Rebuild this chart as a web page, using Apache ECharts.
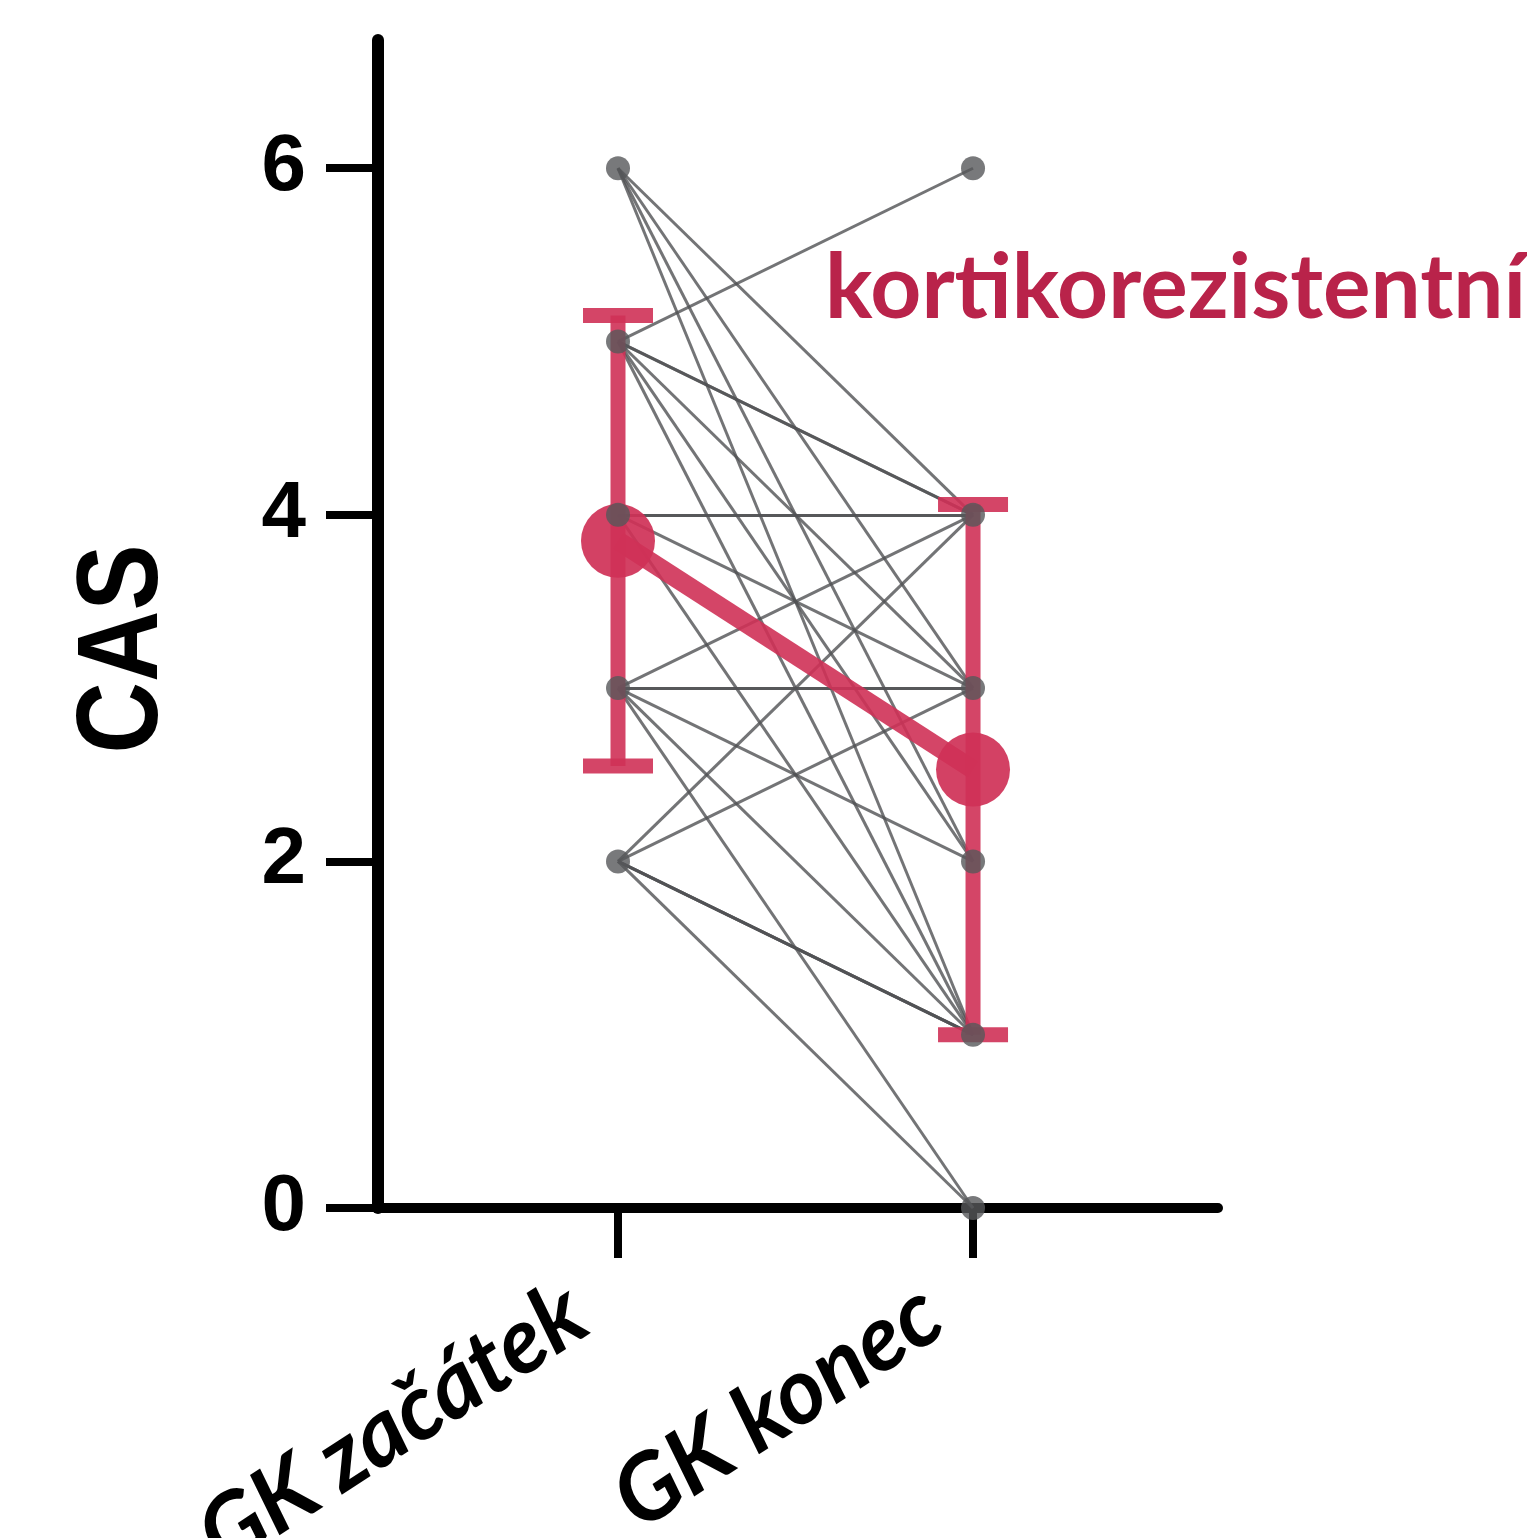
<!DOCTYPE html>
<html>
<head>
<meta charset="utf-8">
<script src="https://cdn.jsdelivr.net/npm/echarts@6/dist/echarts.min.js"></script>
<style>
  html, body { margin: 0; padding: 0; background: #ffffff; overflow: hidden; }
  #chart { width: 1527px; height: 1538px; }
</style>
</head>
<body>
<div id="chart"></div>
<script>
// Time points on the x axis
const categories = ['GK začátek', 'GK konec'];
// Paired CAS scores per patient (start of GC therapy -> end)
const startCAS = [6, 6, 6, 6, 5, 5, 5, 5, 5, 5, 4, 4, 4, 4, 3, 3, 3, 3, 3, 3, 2, 2, 2, 2, 2, 2];
const endCAS   = [4, 3, 2, 1, 6, 4, 4, 3, 2, 1, 4, 4, 3, 1, 3, 3, 4, 1, 0, 2, 4, 3, 1, 1, 1, 0];
// Group mean and standard deviation at each time point
const meanCAS = [3.85, 2.53];
const sdCAS = [1.30, 1.53];
// Y axis ticks
const yTicks = [0, 2, 4, 6];
const groupLabel = 'kortikorezistentní';

const RED = '#cf3157';
const GRAY = '#505154';

const chart = echarts.init(document.getElementById('chart'), null, { renderer: 'canvas' });

const pairLines = startCAS.map((s, i) => ({ coords: [[0, s], [1, endCAS[i]]] }));

const pointSet = {};
startCAS.forEach(v => { pointSet['0_' + v] = [0, v]; });
endCAS.forEach(v => { pointSet['1_' + v] = [1, v]; });
const points = Object.values(pointSet);

const errData = meanCAS.map((m, i) => [i, m - sdCAS[i], m + sdCAS[i]]);

chart.setOption({
  animation: false,
  backgroundColor: '#ffffff',
  title: {
    text: groupLabel,
    left: 820,
    top: 240,
    textStyle: { color: '#b9234a', fontFamily: 'Lato', fontWeight: 'bold', fontSize: 89 }
  },
  grid: { left: 378, width: 840, top: 40, height: 1168, containLabel: false, outerBoundsMode: 'none' },
  xAxis: {
    type: 'value',
    min: -0.676,
    max: 1.690,
    splitLine: { show: false },
    axisLine: { show: true, onZero: false, lineStyle: { color: '#000', width: 10 } },
    axisTick: { show: true, length: 50, customValues: [0, 1], lineStyle: { color: '#000', width: 8 } },
    axisLabel: {
      show: true,
      customValues: [0, 1],
      formatter: v => categories[Math.round(v)],
      rotate: 33,
      margin: 72,
      padding: [0, 48, 0, 0],
      color: '#000',
      fontFamily: 'Lato',
      fontStyle: 'italic',
      fontWeight: 'bold',
      fontSize: 92
    }
  },
  yAxis: {
    type: 'value',
    min: 0,
    max: 6.74,
    splitLine: { show: false },
    axisLine: { show: true, onZero: false, lineStyle: { color: '#000', width: 12 } },
    axisTick: { show: true, length: 52, customValues: yTicks, lineStyle: { color: '#000', width: 8 } },
    axisLabel: {
      show: true,
      customValues: yTicks,
      margin: 72,
      color: '#000',
      fontFamily: '"Liberation Sans", Arial, sans-serif',
      fontWeight: 'bold',
      fontSize: 80
    }
  },
  series: [
    {
      type: 'custom',
      name: 'sd',
      z: 3,
      data: errData,
      renderItem: function (params, api) {
        const x = api.value(0);
        const lo = api.coord([x, api.value(1)]);
        const hi = api.coord([x, api.value(2)]);
        const half = 35;
        const style = { stroke: RED, lineWidth: 15, opacity: 0.9 };
        return {
          type: 'group',
          children: [
            { type: 'line', shape: { x1: lo[0], y1: lo[1], x2: hi[0], y2: hi[1] }, style: style },
            { type: 'line', shape: { x1: hi[0] - half, y1: hi[1], x2: hi[0] + half, y2: hi[1] }, style: style },
            { type: 'line', shape: { x1: lo[0] - half, y1: lo[1], x2: lo[0] + half, y2: lo[1] }, style: style }
          ]
        };
      }
    },
    {
      type: 'lines',
      coordinateSystem: 'cartesian2d',
      z: 2,
      data: pairLines,
      lineStyle: { color: GRAY, width: 3, opacity: 0.8 }
    },
    {
      type: 'line',
      name: 'mean',
      z: 3,
      data: meanCAS.map((m, i) => [i, m]),
      symbol: 'circle',
      symbolSize: 74,
      lineStyle: { color: RED, width: 19, opacity: 0.9 },
      itemStyle: { color: RED, opacity: 0.92 }
    },
    {
      type: 'scatter',
      z: 4,
      data: points,
      symbol: 'circle',
      symbolSize: 24,
      itemStyle: { color: '#56575a' }
    }
  ],
  graphic: [
    {
      type: 'text',
      x: 125,
      y: 649,
      rotation: Math.PI / 2,
      scaleX: 0.86,
      style: {
        text: 'CAS',
        fill: '#000',
        font: 'bold 115px "Liberation Sans", Arial, sans-serif',
        align: 'center',
        verticalAlign: 'middle'
      }
    }
  ]
});
</script>
</body>
</html>
